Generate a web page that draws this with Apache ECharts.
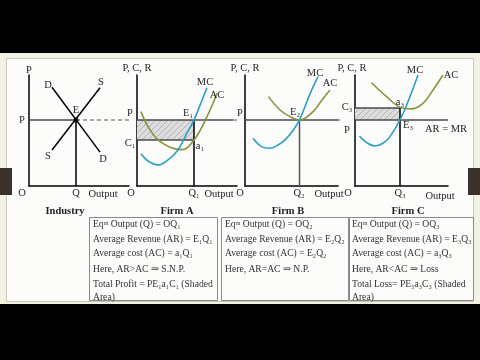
<!DOCTYPE html>
<html><head><meta charset="utf-8">
<script src="https://cdn.jsdelivr.net/npm/echarts@6/dist/echarts.min.js"></script>
<style>html,body{margin:0;padding:0;background:#000}#c{width:480px;height:360px}</style>
</head><body><div id="c"></div>
<script>
// ---- data (abstract units: output 0..10, price/cost 0..10) ----
const price = 5.95;
const industryDemand = [[2.3, 8.9], [7.1, 3.05]];
const industrySupply = [[2.3, 3.25], [7.1, 8.85]];
const industryEq = [[4.7, 5.95]];
const firmAEq = [5.7, 5.95];      // Q1, P
const firmACost = [4.14];          // C1
const firmAMC = [[0.4,2.9],[1.1,2.25],[2.1,1.9],[3.1,2.35],[4.1,3.24],[4.9,4.6],[5.7,5.95],[6.4,7.5],[7.0,8.85]];
const firmAAC = [[0.4,6.7],[1.1,5.35],[2.1,4.15],[3.3,3.5],[4.5,3.28],[5.7,4.14],[7.0,6.25],[8.0,8.35]];
const firmBEq = [5.45, 5.95];
const firmBMC = [[0.8,4.3],[1.65,3.55],[2.5,3.4],[3.3,3.7],[4.0,4.15],[4.8,5.0],[5.45,5.95],[6.5,8.3],[7.3,9.85]];
const firmBAC = [[2.35,8.05],[3.5,6.85],[4.5,6.25],[5.45,5.95],[6.8,6.7],[7.7,7.75],[8.5,8.65]];
const firmCEq = [4.5, 5.95];
const firmCCost = [7.03];          // C3
const firmCMC = [[0.45,4.5],[1.1,3.95],[2.0,3.6],[2.8,3.85],[3.5,4.45],[4.5,5.95],[5.3,7.6],[6.3,10]];
const firmCAC = [[1.65,9.3],[3.15,8.05],[4.5,7.1],[5.6,6.95],[6.8,7.45],[7.8,8.65],[8.8,10]];
const axisMaxX = [10, 10, 9.3, 9.3];
const lineEnds = [10.8, 9.6, 9.3, 9.3];   // where solid price line ends / dashed starts
const dashEnds = [10.8, 10.8, 11.0, null];

// ---- styles ----
const MC_COLOR = '#2b9fc6', AC_COLOR = '#8f8f3e', PLINE = '#4a4a4a';
const FONT = '"Liberation Serif", "DejaVu Serif", serif';

const pc = document.createElement('canvas'); pc.width = 6; pc.height = 6;
const g = pc.getContext('2d');
g.fillStyle = '#dcdcdc'; g.fillRect(0,0,6,6);
g.strokeStyle = '#b4b4b4'; g.lineWidth = 1;
g.beginPath(); g.moveTo(0,6); g.lineTo(6,0); g.moveTo(-1,1); g.lineTo(1,-1); g.moveTo(5,7); g.lineTo(7,5); g.stroke();
const hatch = {image: pc, repeat: 'repeat'};

const grids = [
  {left: 29, top: 75, width: 100, height: 111},
  {left: 137, top: 75, width: 100, height: 111},
  {left: 245, top: 75, width: 93, height: 111},
  {left: 355, top: 75, width: 93, height: 111}
];
const axisCommon = {type: 'value', axisLine: {show: true, onZero: false, lineStyle: {color: '#000', width: 1.5}},
  axisTick: {show: false}, axisLabel: {show: false}, splitLine: {show: false}};
const xAxes = grids.map((gr, i) => Object.assign({}, axisCommon, {gridIndex: i, min: 0, max: axisMaxX[i]}));
const yAxes = grids.map((gr, i) => Object.assign({}, axisCommon, {gridIndex: i, min: 0, max: 10}));

function seg(i, data, color, opts) {
  return Object.assign({type: 'line', xAxisIndex: i, yAxisIndex: i, data: data, symbol: 'none', clip: false,
    silent: true, animation: false, z: 3, lineStyle: {color: color, width: 1.5}}, opts || {});
}
function curve(i, data, color) {
  return seg(i, data, color, {smooth: 0.4, lineStyle: {color: color, width: 1.6}, z: 4});
}

const series = [];
// Industry
const eq = industryEq[0];
series.push(seg(0, [[0, price], eq], PLINE));
series.push(seg(0, [eq, [dashEnds[0], price]], '#8a8a8a', {lineStyle: {color: '#8a8a8a', width: 1.5, type: [4, 3]}}));
series.push(seg(0, [eq, [eq[0], 0]], '#000'));
series.push(seg(0, industryDemand, '#000'));
series.push(seg(0, industrySupply, '#000'));
series.push({type: 'scatter', xAxisIndex: 0, yAxisIndex: 0, data: industryEq, symbolSize: 5, itemStyle: {color: '#000'}, z: 5, silent: true, animation: false});
// Firm A
series.push(seg(1, [[0, price], [lineEnds[1], price]], PLINE, {z: 3,
  markArea: {silent: true, itemStyle: {color: hatch}, data: [[{coord: [0, price]}, {coord: [firmAEq[0], firmACost[0]]}]]}}));
series.push(seg(1, [[lineEnds[1], price], [dashEnds[1], price]], '#8a8a8a', {lineStyle: {color: '#8a8a8a', width: 1.5, type: [4, 3]}}));
series.push(seg(1, [[0, firmACost[0]], [firmAEq[0], firmACost[0]]], PLINE));
series.push(seg(1, [[firmAEq[0], price], [firmAEq[0], 0]], '#000'));
series.push(curve(1, firmAAC, AC_COLOR));
series.push(curve(1, firmAMC, MC_COLOR));
// Firm B
series.push(seg(2, [[0, price], [lineEnds[2], price]], PLINE));
series.push(seg(2, [[lineEnds[2], price], [dashEnds[2], price]], '#8a8a8a', {lineStyle: {color: '#8a8a8a', width: 1.5, type: [4, 3]}}));
series.push(seg(2, [[firmBEq[0], price], [firmBEq[0], 0]], '#555'));
series.push(curve(2, firmBAC, AC_COLOR));
series.push(curve(2, firmBMC, MC_COLOR));
// Firm C
series.push(seg(3, [[0, price], [lineEnds[3], price]], PLINE, {
  markArea: {silent: true, itemStyle: {color: hatch}, data: [[{coord: [0, firmCCost[0]]}, {coord: [firmCEq[0], price]}]]}}));
series.push(seg(3, [[0, firmCCost[0]], [firmCEq[0], firmCCost[0]]], PLINE));
series.push(seg(3, [[firmCEq[0], firmCCost[0]], [firmCEq[0], 0]], '#000'));
series.push(curve(3, firmCAC, AC_COLOR));
series.push(curve(3, firmCMC, MC_COLOR));

// ---- decoration + text ----
const gfx = [];
function R(x, y, w, h, fill, stroke, z) {
  gfx.push({type: 'rect', shape: {x: x, y: y, width: w, height: h}, z: z || -10, silent: true,
    style: {fill: fill || 'none', stroke: stroke || null, lineWidth: 1}});
}
function T(text, x, y, size, opts) {
  opts = opts || {};
  gfx.push({type: 'text', x: x, y: y, z: 50, silent: true, style: {text: text, fill: opts.fill || '#1e1e1e',
    font: (opts.bold ? 'bold ' : '') + size + 'px ' + FONT, textAlign: opts.align || 'center', textVerticalAlign: 'middle'}});
}
R(0, 53, 480, 251, '#f3f1e3');
R(6.5, 58.5, 467, 243, '#fcfcfa', '#c9c7b9');
R(0, 168, 12, 27, '#3a3128', null, -5);
R(468, 168, 12, 27, '#3a3128', null, -5);
// boxes
R(89.5, 217.5, 128, 83, 'none', '#8a8a8a', 40);
R(221.5, 217.5, 127, 83, 'none', '#8a8a8a', 40);
R(349.5, 217.5, 124, 83, 'none', '#8a8a8a', 40);

const S = 10.5;
// Industry
T('P', 29, 70, S); T('P', 22, 120, S); T('D', 48, 85, S); T('S', 101, 82, S); T('E', 76, 110, S);
T('S', 48, 156, S); T('D', 103, 159, S); T('O', 22, 193, S); T('Q', 76, 193, S); T('Output', 103, 194, S);
T('Industry', 65, 211, S, {bold: true});
// Firm A
T('P, C, R', 137, 68, S); T('MC', 205, 82, S); T('AC', 217, 95, S); T('P', 130, 113, S); T('E₁', 188, 113, S);
T('C₁', 130, 143, S); T('a₁', 200, 146, S); T('O', 131, 193, S); T('Q₁', 194, 193, S); T('Output', 219, 194, S);
T('Firm A', 177, 211, S, {bold: true});
// Firm B
T('P, C, R', 245, 68, S); T('MC', 315, 73, S); T('AC', 330, 83, S); T('P', 240, 113, S); T('E₂', 295, 112, S);
T('O', 240, 193, S); T('Q₂', 299, 193, S); T('Output', 329, 194, S);
T('Firm B', 288, 211, S, {bold: true});
// Firm C
T('P, C, R', 352, 68, S); T('MC', 415, 70, S); T('AC', 451, 75, S); T('C₃', 347, 107, S); T('a₃', 400, 102, S);
T('P', 347, 130, S); T('E₃', 408, 125, S); T('AR = MR', 446, 129, S); T('O', 348, 193, S); T('Q₃', 400, 193, S);
T('Output', 440, 196, S); T('Firm C', 408, 211, S, {bold: true});

const lineYs = [224, 239, 253, 269, 284, 297];
const boxA = ['Eqᵐ Output (Q) = OQ₁', 'Average Revenue (AR) = E₁Q₁', 'Average cost (AC) = a₁Q₁', 'Here, AR>AC ⇒ S.N.P.', 'Total Profit = PE₁a₁C₁ (Shaded', 'Area)'];
const boxB = ['Eqᵐ Output (Q) = OQ₂', 'Average Revenue (AR) = E₂Q₂', 'Average cost (AC) = E₂Q₂', 'Here, AR=AC ⇒ N.P.'];
const boxC = ['Eqᵐ Output (Q) = OQ₃', 'Average Revenue (AR) = E₃Q₃', 'Average cost (AC) = a₃Q₃', 'Here, AR<AC ⇒ Loss', 'Total Loss= PE₃a₃C₃ (Shaded', 'Area)'];
const BS = 9.6;
boxA.forEach((t, i) => T(t, 93, lineYs[i], BS, {align: 'left', fill: '#333'}));
boxB.forEach((t, i) => T(t, 225, lineYs[i], BS, {align: 'left', fill: '#333'}));
boxC.forEach((t, i) => T(t, 352, lineYs[i], BS, {align: 'left', fill: '#333'}));

const chart = echarts.init(document.getElementById('c'), null, {renderer: 'canvas'});
chart.setOption({
  backgroundColor: '#000',
  animation: false,
  grid: grids,
  xAxis: xAxes,
  yAxis: yAxes,
  series: series,
  graphic: gfx
});
</script></body></html>
